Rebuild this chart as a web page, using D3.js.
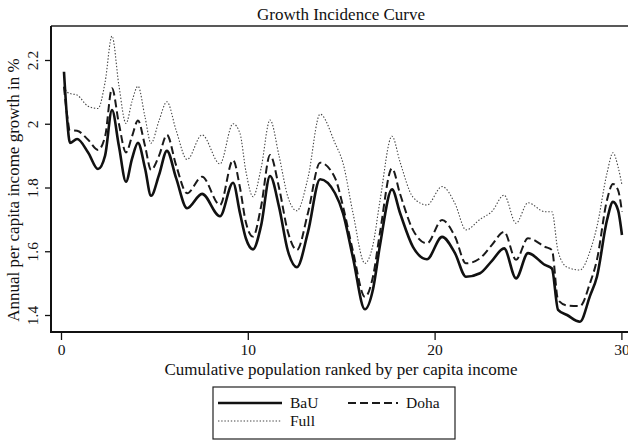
<!DOCTYPE html>
<html>
<head>
<meta charset="utf-8">
<script src="https://cdn.jsdelivr.net/npm/d3@7"></script>
<style>
  html, body { margin: 0; padding: 0; background: #fff; }
  svg { display: block; }
  text { font-family: "Liberation Serif", "Times New Roman", serif; fill: #111; }
</style>
</head>
<body>
<svg id="chart" width="628" height="441"></svg>
<script>
// ---- data ----
const population = [0.16, 0.32, 0.48, 0.86, 1.45, 1.98, 2.36, 2.73, 3.10, 3.48, 3.80, 4.12, 4.50, 4.82, 5.25, 5.67, 6.16, 6.75, 7.55, 8.51, 9.21, 9.58, 9.90, 10.28, 10.71, 11.19, 11.67, 12.15, 12.63, 13.22, 13.87, 14.67, 15.10, 15.63, 16.27, 16.70, 17.08, 17.72, 18.15, 18.84, 19.59, 20.40, 21.09, 21.68, 22.43, 23.07, 23.72, 24.36, 25.00, 25.91, 26.28, 26.61, 27.09, 27.78, 28.32, 28.69, 29.23, 29.55, 29.82, 30.03];
const bau = [2.163, 2.02, 1.94, 1.952, 1.91, 1.858, 1.90, 2.043, 1.93, 1.818, 1.89, 1.94, 1.86, 1.774, 1.84, 1.915, 1.83, 1.735, 1.78, 1.71, 1.815, 1.72, 1.64, 1.606, 1.68, 1.836, 1.74, 1.60, 1.55, 1.66, 1.826, 1.782, 1.719, 1.58, 1.418, 1.48, 1.62, 1.794, 1.72, 1.614, 1.575, 1.645, 1.594, 1.52, 1.531, 1.57, 1.609, 1.515, 1.594, 1.557, 1.546, 1.416, 1.40, 1.379, 1.46, 1.52, 1.698, 1.755, 1.729, 1.651];
const doha = [2.116, 2.03, 1.98, 1.978, 1.95, 1.918, 1.96, 2.111, 2.0, 1.91, 1.96, 2.01, 1.93, 1.855, 1.90, 1.965, 1.87, 1.782, 1.834, 1.745, 1.886, 1.80, 1.69, 1.646, 1.74, 1.902, 1.80, 1.66, 1.604, 1.72, 1.878, 1.83, 1.74, 1.60, 1.457, 1.52, 1.66, 1.86, 1.78, 1.667, 1.625, 1.698, 1.646, 1.562, 1.578, 1.62, 1.661, 1.573, 1.641, 1.614, 1.604, 1.447, 1.43, 1.428, 1.50, 1.573, 1.761, 1.811, 1.792, 1.724];
const full = [2.116, 2.10, 2.095, 2.09, 2.055, 2.048, 2.13, 2.275, 2.12, 2.001, 2.07, 2.118, 2.02, 1.939, 2.01, 2.069, 1.98, 1.888, 1.965, 1.874, 2.0, 1.97, 1.85, 1.771, 1.86, 2.012, 1.90, 1.77, 1.727, 1.83, 2.03, 1.939, 1.876, 1.72, 1.562, 1.62, 1.76, 1.961, 1.88, 1.77, 1.745, 1.803, 1.75, 1.667, 1.70, 1.725, 1.776, 1.688, 1.752, 1.724, 1.724, 1.60, 1.55, 1.541, 1.60, 1.677, 1.845, 1.909, 1.865, 1.808];
const xTicks = [0, 10, 20, 30];
const yTicks = [1.4, 1.6, 1.8, 2, 2.2];
const seriesNames = ["BaU", "Doha", "Full"];

// ---- layout ----
const svg = d3.select("#chart");
const frame = { left: 51, top: 26, right: 640, bottom: 332 };
const x = d3.scaleLinear().domain([0, 30]).range([61, 621.4]);
const y = d3.scaleLinear().domain([1.4, 2.2]).range([315, 60]);
const titleSize = "17px";
const tickSize = "15.5px";

// title
svg.append("text").attr("x", 341).attr("y", 20).attr("text-anchor", "middle")
  .style("font-size", titleSize).text("Growth Incidence Curve");

// series
const styles = {
  BaU:  { width: 2.6, dash: null, color: "#111" },
  Doha: { width: 2.0, dash: "8,4", color: "#1a1a1a" },
  Full: { width: 1.1, dash: "1.4,1.8", color: "#444" }
};
const seriesVals = { BaU: bau, Doha: doha, Full: full };
const line = d3.line().x(d => x(d[0])).y(d => y(d[1])).curve(d3.curveMonotoneX);

const g = svg.append("g");
["Full", "Doha", "BaU"].forEach(name => {
  const pts = population.map((p, i) => [p, seriesVals[name][i]]);
  g.append("path").datum(pts)
    .attr("d", line)
    .attr("fill", "none")
    .attr("stroke", styles[name].color)
    .attr("stroke-width", styles[name].width)
    .attr("stroke-dasharray", styles[name].dash)
    .attr("stroke-linejoin", "round");
});

// frame
svg.append("line").attr("x1", frame.left).attr("x2", frame.right).attr("y1", frame.top).attr("y2", frame.top)
  .attr("stroke", "#222").attr("stroke-width", 1.6);
svg.append("line").attr("x1", frame.left).attr("x2", frame.left).attr("y1", frame.top).attr("y2", frame.bottom + 1)
  .attr("stroke", "#111").attr("stroke-width", 2);
svg.append("line").attr("x1", frame.left).attr("x2", frame.right).attr("y1", frame.bottom).attr("y2", frame.bottom)
  .attr("stroke", "#111").attr("stroke-width", 2.2);

// y axis
const yAxis = d3.axisLeft(y).tickValues(yTicks).tickSize(6).tickFormat(d3.format("~g"));
const ya = svg.append("g").attr("transform", `translate(${frame.left},0)`).call(yAxis);
ya.select(".domain").remove();
ya.selectAll(".tick line").attr("stroke", "#111").attr("stroke-width", 1.3);
ya.selectAll(".tick text")
  .attr("x", 0).attr("dy", 0)
  .attr("transform", "translate(-13,0) rotate(-90)")
  .attr("text-anchor", "middle")
  .style("font-size", tickSize).style("font-family", "Liberation Serif").attr("fill", "#111");

// x axis
const xAxis = d3.axisBottom(x).tickValues(xTicks).tickSize(8).tickFormat(d3.format("d"));
const xa = svg.append("g").attr("transform", `translate(0,${frame.bottom})`).call(xAxis);
xa.select(".domain").remove();
xa.selectAll(".tick line").attr("stroke", "#111").attr("stroke-width", 1.3);
xa.selectAll(".tick text").attr("y", 12).attr("dy", "0.71em")
  .style("font-size", tickSize).style("font-family", "Liberation Serif").attr("fill", "#111");

// axis titles
svg.append("text").attr("x", 341).attr("y", 375).attr("text-anchor", "middle")
  .style("font-size", titleSize).text("Cumulative population ranked by per capita income");
svg.append("text").attr("transform", "translate(19,190) rotate(-90)").attr("text-anchor", "middle")
  .style("font-size", titleSize).text("Annual per capita income growth in %");

// legend
const lg = svg.append("g");
lg.append("rect").attr("x", 213).attr("y", 387).attr("width", 242).attr("height", 52)
  .attr("fill", "#fff").attr("stroke", "#222").attr("stroke-width", 1.2);
const legendPos = [
  { name: "BaU", x: 218, y: 403 },
  { name: "Doha", x: 348, y: 403 },
  { name: "Full", x: 218, y: 421 }
];
legendPos.forEach(p => {
  const len = p.name === "Doha" ? 50 : 64;
  lg.append("line").attr("x1", p.x).attr("x2", p.x + len).attr("y1", p.y).attr("y2", p.y)
    .attr("stroke", styles[p.name].color)
    .attr("stroke-width", styles[p.name].width)
    .attr("stroke-dasharray", styles[p.name].dash);
  lg.append("text").attr("x", p.x + len + 8).attr("y", p.y + 5)
    .style("font-size", "15.5px").text(p.name);
});
</script>
</body>
</html>
